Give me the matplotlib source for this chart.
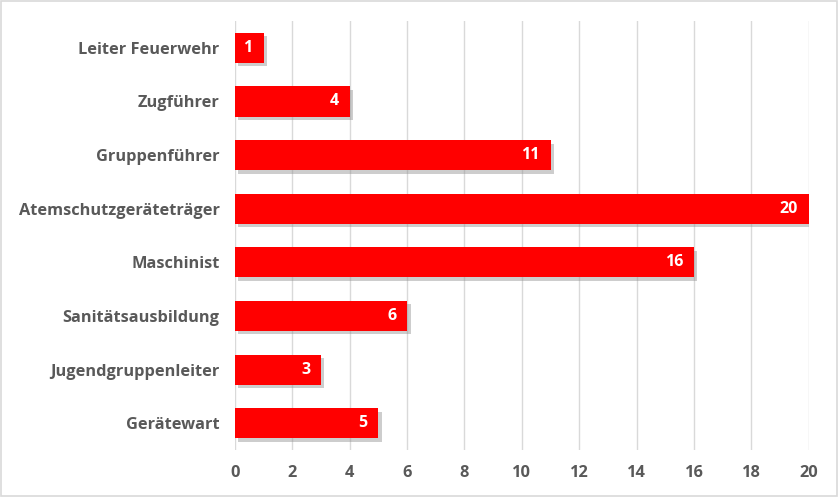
import matplotlib
matplotlib.use("Agg")
import matplotlib.pyplot as plt
import matplotlib.patheffects as pe
from matplotlib.patches import Rectangle

categories = ["Leiter Feuerwehr", "Zugführer", "Gruppenführer", "Atemschutzgeräteträger",
              "Maschinist", "Sanitätsausbildung", "Jugendgruppenleiter", "Gerätewart"]
values = [1, 4, 11, 20, 16, 6, 3, 5]
xticks = [0, 2, 4, 6, 8, 10, 12, 14, 16, 18, 20]

plt.rcParams['font.family'] = ['Open Sans', 'DejaVu Sans']
text_col = "#595959"

fig = plt.figure(figsize=(8.39, 4.97), dpi=100)
ax = fig.add_axes([0.280, 0.0946, 0.684, 0.863])

y = list(range(len(categories)))[::-1]
bars = ax.barh(y, values, height=0.56, color="#ff0000", zorder=3)
for b in bars:
    b.set_path_effects([pe.SimplePatchShadow(offset=(2.5, -2.5), shadow_rgbFace="#909090", alpha=0.45), pe.Normal()])

for yi, v in zip(y, values):
    ax.text(v - 0.38, yi, str(v), ha="right", va="center", color="white",
            fontsize=11.5, fontweight="bold", zorder=4)

ax.set_xlim(0, 20)
ax.set_ylim(-0.5, len(categories) - 0.5)
ax.set_xticks(xticks)
ax.set_yticks(y)
ax.set_yticklabels(categories)
ax.grid(axis="x", color="#d9d9d9", linewidth=1, zorder=0)
for s in ax.spines.values():
    s.set_visible(False)
ax.tick_params(axis="both", length=0, colors=text_col, labelsize=11.8)
ax.tick_params(axis="x", pad=11)
ax.tick_params(axis="y", pad=11)
for lab in ax.get_xticklabels() + ax.get_yticklabels():
    lab.set_fontweight("bold")

fig.patches.append(Rectangle((0.001, 0.002), 0.997, 0.995, transform=fig.transFigure,
                             fill=False, edgecolor="#d9d9d9", linewidth=1.2))
fig.savefig("out.png", dpi=100)
